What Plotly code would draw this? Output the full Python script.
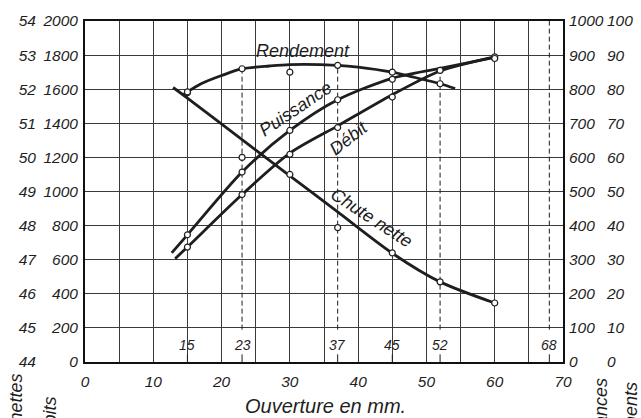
import plotly.graph_objects as go

# ---------------- data ----------------
ouverture = [15, 23, 30, 37, 45, 52, 60]              # mesures (mm)
rendement_pts = [79.2, 86.0, 85.0, 87.0, 85.0, 81.6]   # % (15..52)
puissance_pts = [373, 557, 679, 769, 829, 855, 890]    # CV
debit_pts = [674, 982, 1218, 1375, 1554, 1711, 1790]   # l/s
chute_pts = [51.9, 50.0, 49.5, 47.94, 47.2, 46.35, 45.73]  # m

rend_curve_x = [14.3, 15, 17, 20, 23, 27, 30, 37, 40, 45, 48, 52, 54.2]
rend_curve_y = [78.2, 79.2, 81.6, 84.0, 86.0, 86.8, 87.2, 87.0, 86.5, 85.0, 83.6, 81.6, 80.2]
puis_curve_x = [12.7, 15, 23, 30, 37, 45, 52, 60]
puis_curve_y = [320, 373, 557, 679, 769, 832, 861, 893]
deb_curve_x = [13.2, 15, 23, 30, 37, 45, 52, 60]
deb_curve_y = [606, 674, 982, 1225, 1385, 1568, 1707, 1790]
chute_curve_x = [12.9, 15, 23, 30, 37, 45, 52, 60]
chute_curve_y = [52.05, 51.74, 50.52, 49.46, 48.40, 47.19, 46.35, 45.73]

x_ticks = [0, 10, 20, 30, 40, 50, 60, 70]
debit_ticks = [0, 200, 400, 600, 800, 1000, 1200, 1400, 1600, 1800, 2000]
chute_ticks = [44, 45, 46, 47, 48, 49, 50, 51, 52, 53, 54]
puis_ticks = [0, 100, 200, 300, 400, 500, 600, 700, 800, 900, 1000]
rend_ticks = [0, 10, 20, 30, 40, 50, 60, 70, 80, 90, 100]

repere_x = [15, 23, 37, 45, 52, 68]                  # ouvertures repérées
dashed_x = [23, 37, 52, 68]
dashed_top = [1721, 1740, 1711, 2000]                # en l/s (échelle des débits)

# ---------------- layout helpers ----------------
W, H = 641, 418
ML, MR, MT, MB = 30, 30, 21, 56
PW = W - ML - MR
PH = H - MT - MB
def px(xp):
    return (xp - ML) / PW
def py(yp):
    return (H - MB - yp) / PH

INK = "#1e1e1e"
FONT = "Liberation Sans"
tickfont = dict(family=FONT, size=15.5, color=INK, style="italic")

fig = go.Figure()

# dashed reference verticals
for xv, top in zip(dashed_x, dashed_top):
    fig.add_trace(go.Scatter(x=[xv, xv], y=[190, top], mode="lines",
                             line=dict(color=INK, width=1, dash="5px,3px"),
                             yaxis="y", hoverinfo="skip", showlegend=False))
# small ticks under repère labels
for xv in repere_x:
    fig.add_trace(go.Scatter(x=[xv, xv], y=[0, 45], mode="lines",
                             line=dict(color=INK, width=1),
                             yaxis="y", hoverinfo="skip", showlegend=False))

curve_line = dict(color=INK, width=2.8, shape="spline", smoothing=0.8)
fig.add_trace(go.Scatter(x=rend_curve_x, y=rend_curve_y, mode="lines", line=curve_line,
                         yaxis="y4", name="Rendement"))
fig.add_trace(go.Scatter(x=puis_curve_x, y=puis_curve_y, mode="lines", line=curve_line,
                         yaxis="y3", name="Puissance"))
fig.add_trace(go.Scatter(x=deb_curve_x, y=deb_curve_y, mode="lines", line=curve_line,
                         yaxis="y", name="Débit"))
fig.add_trace(go.Scatter(x=chute_curve_x, y=chute_curve_y, mode="lines", line=curve_line,
                         yaxis="y2", name="Chute nette"))

mk = dict(size=6, color="white", line=dict(color=INK, width=1.2))
fig.add_trace(go.Scatter(x=ouverture[:len(rendement_pts)], y=rendement_pts, mode="markers",
                         marker=mk, yaxis="y4", showlegend=False))
fig.add_trace(go.Scatter(x=ouverture, y=puissance_pts, mode="markers", marker=mk,
                         yaxis="y3", showlegend=False))
fig.add_trace(go.Scatter(x=ouverture, y=debit_pts, mode="markers", marker=mk,
                         yaxis="y", showlegend=False))
fig.add_trace(go.Scatter(x=ouverture, y=chute_pts, mode="markers", marker=mk,
                         yaxis="y2", showlegend=False))

annotations = []
def lab(text, x, y, angle=0, size=18):
    annotations.append(dict(text=text, x=x, y=y, xref="x", yref="y", showarrow=False,
                            textangle=angle, xanchor="center", yanchor="middle",
                            font=dict(family=FONT, size=size, color=INK, style="italic")))
lab("Rendement", 31.9, 1822)
lab("Puissance", 30.8, 1485, -34)
lab("Débit", 38.6, 1315, -38)
lab("Chute nette", 42.0, 845, 33)
for xv in repere_x:
    annotations.append(dict(text=str(xv), x=xv, y=100, xref="x", yref="y", showarrow=False,
                            xanchor="center", yanchor="middle",
                            font=dict(family=FONT, size=14, color=INK, style="italic")))

def ptxt(text, xp, yp, angle=0, size=18, xa="center", ya="middle"):
    annotations.append(dict(text=text, x=px(xp), y=py(yp), xref="paper", yref="paper",
                            showarrow=False, textangle=angle, xanchor=xa, yanchor=ya,
                            font=dict(family=FONT, size=size, color=INK, style="italic")))
ptxt("Ouverture en mm.", 325, 406, size=20)
ptxt("Chutes nettes", 15, 372, angle=-90, ya="top")
ptxt("Débits", 50, 395, angle=-90, ya="top")
ptxt("Puissances", 601, 376, angle=-90, ya="top")
ptxt("Rendements", 631, 380, angle=-90, ya="top")

fig.update_layout(
    width=W, height=H,
    margin=dict(l=ML, r=MR, t=MT, b=MB, autoexpand=False),
    paper_bgcolor="white", plot_bgcolor="white",
    showlegend=False,
    annotations=annotations,
    xaxis=dict(domain=[px(85), px(563)], range=[0, 70], tickvals=x_ticks,
               tickfont=tickfont, ticks="", showgrid=True, gridcolor="#3a3a3a", gridwidth=1,
               minor=dict(dtick=5, showgrid=True, gridcolor="#3a3a3a", gridwidth=1),
               zeroline=False, showline=True, linecolor="#111", linewidth=2, mirror=True,
               ticklabelstandoff=4, automargin=False),
    yaxis=dict(range=[0, 2000], tickvals=debit_ticks, tickfont=tickfont, ticks="",
               showgrid=True, gridcolor="#3a3a3a", gridwidth=1, zeroline=False,
               showline=True, linecolor="#111", linewidth=2, mirror=True,
               ticklabelstandoff=2, automargin=False),
    yaxis2=dict(range=[44, 54], tickvals=chute_ticks, tickfont=tickfont, ticks="",
                overlaying="y", anchor="free", position=px(36), side="left",
                showgrid=False, zeroline=False, showline=False, automargin=False),
    yaxis3=dict(range=[0, 1000], tickvals=puis_ticks, tickfont=tickfont, ticks="",
                overlaying="y", anchor="x", side="right",
                showgrid=False, zeroline=False, showline=False, ticklabelstandoff=5,
                automargin=False),
    yaxis4=dict(range=[0, 100], tickvals=rend_ticks, tickfont=tickfont, ticks="",
                overlaying="y", anchor="free", position=px(606), side="right",
                showgrid=False, zeroline=False, showline=False, automargin=False),
)

fig.write_html("out.html", config={"displayModeBar": False},
               post_script="document.body.style.margin='0';document.body.style.overflow='hidden';")
